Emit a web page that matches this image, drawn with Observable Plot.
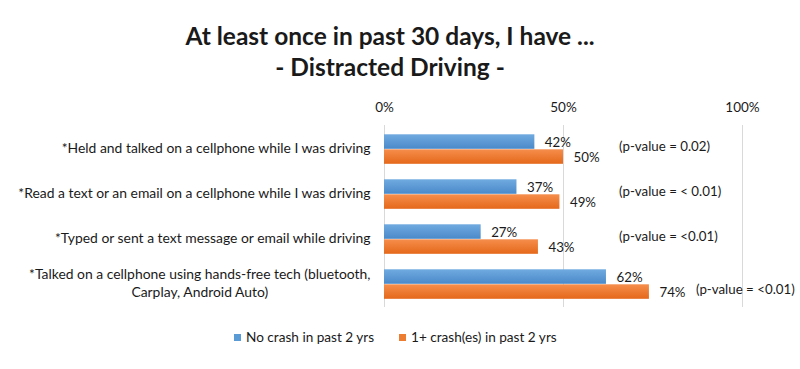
<!DOCTYPE html>
<html>
<head>
<meta charset="utf-8">
<script src="https://cdn.jsdelivr.net/npm/d3@7"></script>
<script src="https://cdn.jsdelivr.net/npm/@observablehq/plot@0.6"></script>
<style>
  body { margin: 0; background: #fff; font-family: Lato, "Open Sans", sans-serif; color: #1a1a1a; }
  #wrap { width: 800px; height: 369px; position: relative; overflow: hidden; }
  #title { height: 90px; box-sizing: border-box; padding-top: 20px; text-align: center; font-weight: bold; font-size: 24.5px; line-height: 31px; padding-right: 20px; }
  #legend { height: 49px; position: relative; font-size: 13.6px; }
  .item { position: absolute; top: 9px; height: 16px; line-height: 16px; white-space: nowrap; }
  .sw { display: inline-block; width: 7px; height: 7px; margin-right: 5px; vertical-align: 1px; }
</style>
</head>
<body>
<div id="wrap">
  <div id="title"><div>At least once in past 30 days, I have ...</div><div>- Distracted Driving -</div></div>
  <div id="chart"></div>
  <div id="legend"></div>
</div>
<script>
const categories = [
  "*Held and talked on a cellphone while I was driving",
  "*Read a text or an email on a cellphone while I was driving",
  "*Typed or sent a text message or email while driving",
  "*Talked on a cellphone using hands-free tech (bluetooth,\nCarplay, Android Auto)"
];
const noCrash = [0.42, 0.37, 0.27, 0.62];
const crash = [0.50, 0.49, 0.43, 0.74];
const pValues = ["(p-value = 0.02)", "(p-value = < 0.01)", "(p-value = <0.01)", "(p-value = <0.01)"];
const xTicks = [0, 0.5, 1];
const seriesNames = ["No crash in past 2 yrs", "1+ crash(es) in past 2 yrs"];
const colors = ["#5B9BD5", "#ED7D31"];

const rows = categories.map((c, i) => ({cat: c, lines: c.split("\n"), a: noCrash[i], b: crash[i], p: pValues[i]}));
const fmt = d3.format(".0%");
const CAT_SIZE = 13.9;
const ctx = document.createElement("canvas").getContext("2d");
ctx.font = `${CAT_SIZE}px Lato`;
const tw = s => ctx.measureText(s).width;
const PAD = 14;

const plot = Plot.plot({
  width: 800,
  height: 230,
  marginTop: 35,
  marginBottom: 13,
  marginLeft: 384,
  marginRight: 58,
  style: {fontFamily: "Lato, 'Open Sans', sans-serif", fontSize: "13.3px", color: "#1a1a1a", background: "transparent"},
  x: {domain: [0, 1]},
  y: {domain: categories, padding: 0, axis: null},
  marks: [
    Plot.ruleX(xTicks, {stroke: "#D9D9D9", strokeWidth: 1}),
    Plot.axisX({anchor: "top", ticks: xTicks, tickFormat: fmt, tickSize: 0, tickPadding: 14, fontSize: 13.5}),
    Plot.barX(rows, {y: "cat", x: "a", fill: "url(#gBlue)", insetTop: 8.3, insetBottom: 22.2}),
    Plot.barX(rows, {y: "cat", x: "b", fill: "url(#gOrange)", insetTop: 23.3, insetBottom: 7.2}),
    Plot.text(rows, {y: "cat", x: "a", text: d => fmt(d.a), textAnchor: "start", dx: 10, dy: -6}),
    Plot.text(rows, {y: "cat", x: "b", text: d => fmt(d.b), textAnchor: "start", dx: 10, dy: 8.5}),
    // category labels (first line right-aligned, wrapped line centred under it)
    Plot.text(rows.filter(d => d.lines.length === 1), {y: "cat", x: 0, text: d => d.lines[0], textAnchor: "end", dx: -PAD, fontSize: CAT_SIZE}),
    Plot.text(rows.filter(d => d.lines.length > 1), {y: "cat", x: 0, text: d => d.lines[0], textAnchor: "end", dx: -PAD, dy: -9, fontSize: CAT_SIZE}),
    ...rows.filter(d => d.lines.length > 1).map(d =>
      Plot.text([d], {y: "cat", x: 0, text: r => r.lines[1], textAnchor: "middle", dx: -PAD - tw(d.lines[0]) / 2, dy: 9, fontSize: CAT_SIZE})
    ),
    // p-value annotations
    Plot.text(rows.slice(0, 3), {y: "cat", x: d => Math.max(0.655, d.b + 0.13), text: "p", textAnchor: "start", dy: -2}),
    Plot.text(rows.slice(3), {y: "cat", x: d => Math.max(0.655, d.b + 0.13), text: "p", textAnchor: "start", dy: 6})
  ]
});

const ns = "http://www.w3.org/2000/svg";
const defs = document.createElementNS(ns, "defs");
const grads = [["gBlue", "#70AAE0", "#4A89C9"], ["gOrange", "#F68E4C", "#E4681A"]];
for (const [id, c1, c2] of grads) {
  const g = document.createElementNS(ns, "linearGradient");
  g.setAttribute("id", id); g.setAttribute("x1", 0); g.setAttribute("y1", 0); g.setAttribute("x2", 0); g.setAttribute("y2", 1);
  [[0, c1], [1, c2]].forEach(([o, c]) => {
    const s = document.createElementNS(ns, "stop");
    s.setAttribute("offset", o); s.setAttribute("stop-color", c);
    g.appendChild(s);
  });
  defs.appendChild(g);
}
plot.insertBefore(defs, plot.firstChild);
document.getElementById("chart").appendChild(plot);

const legend = document.getElementById("legend");
const lx = [234, 399];
seriesNames.forEach((n, i) => {
  const it = document.createElement("div");
  it.className = "item";
  it.style.left = lx[i] + "px";
  it.innerHTML = `<span class="sw" style="background:${colors[i]}"></span>${n}`;
  legend.appendChild(it);
});
</script>
</body>
</html>
